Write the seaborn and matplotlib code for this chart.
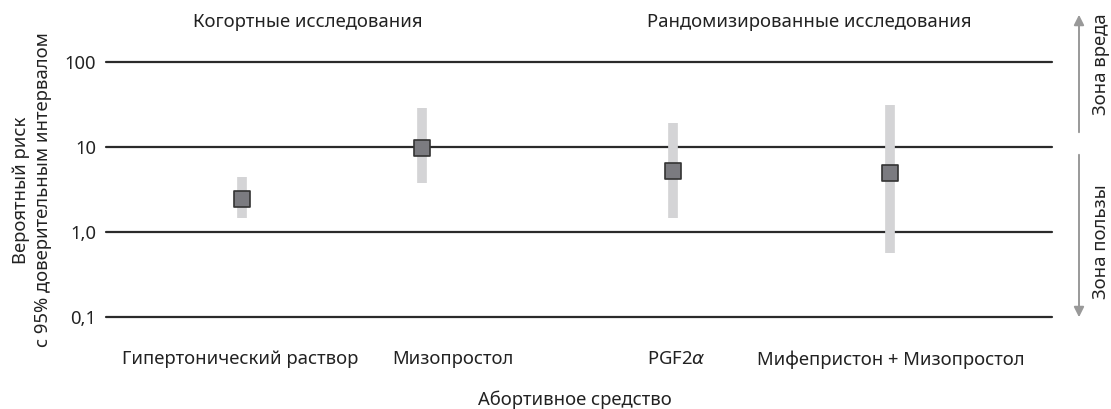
import matplotlib
matplotlib.use("Agg")
import matplotlib.pyplot as plt
import seaborn as sns
import numpy as np
import pandas as pd

# ---- data ----
categories = ["Гипертонический раствор", "Мизопростол", "PGF2$\\alpha$", "Мифепристон + Мизопростол"]
risk = [2.45, 9.7, 5.2, 5.0]
ci_low = [1.46, 3.8, 1.46, 0.57]
ci_high = [4.4, 28.5, 19.0, 31.0]
x_pos = [242, 422, 673, 890]          # horizontal placement of markers
label_pos = [240, 453, 676, 891]      # horizontal placement of category labels
y_ticks = [0.1, 1.0, 10, 100]
y_tick_labels = ["0,1", "1,0", "10", "100"]
group_labels = ["Когортные исследования", "Рандомизированные исследования"]

df = pd.DataFrame({"x": x_pos, "risk": risk, "lo": ci_low, "hi": ci_high})

sns.set_theme(style="white")
plt.rcParams["font.family"] = ["Noto Sans", "DejaVu Sans"]
FS = 13.3
TC = "#222222"

W, H = 1111, 409
fig = plt.figure(figsize=(W / 100, H / 100), dpi=100)
ax = fig.add_axes([106 / W, (H - 317) / H, (1052 - 106) / W, (317 - 62) / H])

ax.set_yscale("log")
ax.set_ylim(0.1, 100)
ax.set_xlim(106, 1052)

for t in y_ticks:
    ax.axhline(t, color="#2b2b2b", lw=1.6, clip_on=False, zorder=1)

ax.vlines(df["x"], df["lo"], df["hi"], color="#d4d4d6", lw=7, zorder=2)
sns.scatterplot(data=df, x="x", y="risk", marker="s", s=140, color="#7b7b80",
                edgecolor="#333333", linewidth=1.2, ax=ax, zorder=3, legend=False)

ax.set_yticks(y_ticks)
ax.set_yticklabels(y_tick_labels, fontsize=FS, color=TC)
ax.yaxis.set_minor_locator(matplotlib.ticker.NullLocator())
ax.tick_params(axis="y", length=0, pad=7)
ax.set_xticks(label_pos)
ax.set_xticklabels(categories, fontsize=FS, color=TC)
ax.tick_params(axis="x", length=0, pad=24)
ax.set_xlabel("")
ax.set_ylabel("")
for s in ax.spines.values():
    s.set_visible(False)

fig.text(575 / W, 1 - 400 / H, "Абортивное средство", ha="center", va="center", fontsize=FS, color=TC)
fig.text(308 / W, 1 - 22 / H, group_labels[0], ha="center", va="center", fontsize=FS, color=TC)
fig.text(809 / W, 1 - 22 / H, group_labels[1], ha="center", va="center", fontsize=FS, color=TC)
fig.text(32 / W, 1 - 190 / H, "Вероятный риск\nс 95% доверительным интервалом", rotation=90,
         ha="center", va="center", fontsize=FS, color=TC, linespacing=1.3)

# zone arrows
fig.patches.append(matplotlib.patches.FancyArrowPatch(
    (1079 / W, 1 - 135 / H), (1079 / W, 1 - 12 / H), transform=fig.transFigure,
    arrowstyle="-|>,head_length=6,head_width=3", color="#999999", lw=1.4))
fig.patches.append(matplotlib.patches.FancyArrowPatch(
    (1079 / W, 1 - 152 / H), (1079 / W, 1 - 320 / H), transform=fig.transFigure,
    arrowstyle="-|>,head_length=6,head_width=3", color="#999999", lw=1.4))
fig.text(1101 / W, 1 - 64 / H, "Зона вреда", rotation=90, ha="center", va="center", fontsize=FS, color=TC)
fig.text(1101 / W, 1 - 242 / H, "Зона пользы", rotation=90, ha="center", va="center", fontsize=FS, color=TC)

fig.savefig("out.png", dpi=100)
